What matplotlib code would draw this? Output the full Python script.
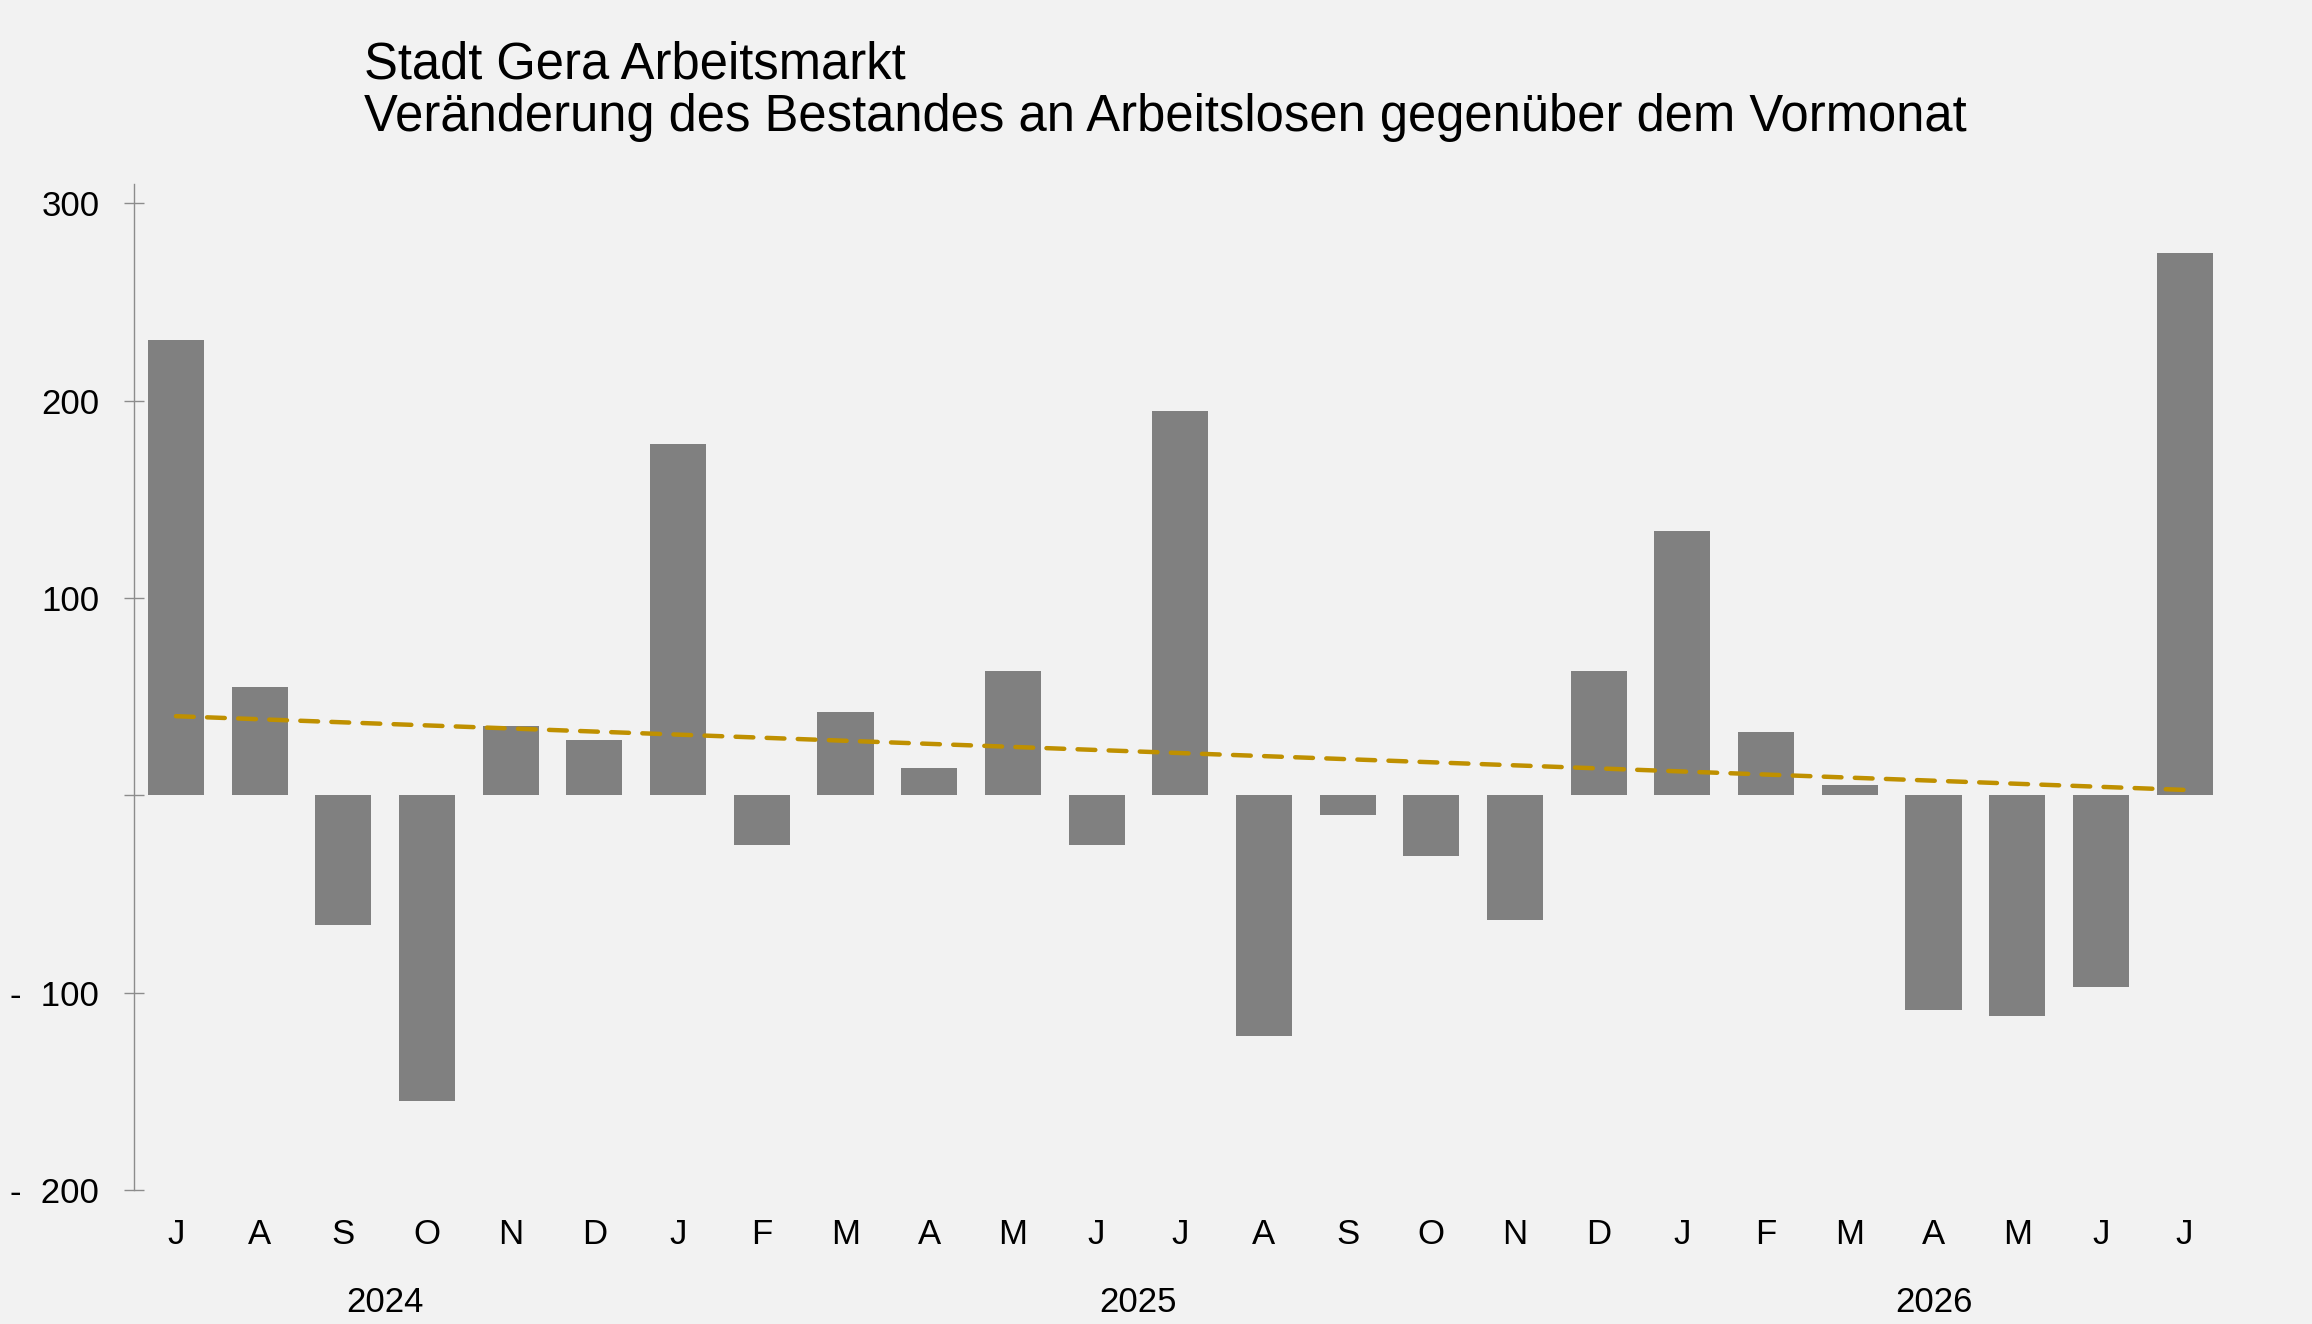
import numpy as np
import matplotlib
matplotlib.use("Agg")
import matplotlib.pyplot as plt

plt.rcParams['font.family'] = ['Liberation Sans', 'DejaVu Sans']

months = ["J", "A", "S", "O", "N", "D",
          "J", "F", "M", "A", "M", "J", "J", "A", "S", "O", "N", "D",
          "J", "F", "M", "A", "M", "J", "J"]
values = [231, 55, -66, -155, 35, 28,
          178, -25, 42, 14, 63, -25, 195, -122, -10, -31, -63, 63,
          134, 32, 5, -109, -112, -97, 275]
years = ["2024", "2025", "2026"]
year_spans = [(0, 5), (6, 17), (18, 24)]
ytick_vals = [-200, -100, 0, 100, 200, 300]
ytick_labels = ["-  200", "-  100", "", "100", "200", "300"]

bg = "#f2f2f2"
fig = plt.figure(figsize=(23.12, 13.24), dpi=100, facecolor=bg)
ax = fig.add_axes([0.058, 0.1013, 0.905, 0.76])
ax.set_facecolor(bg)

x = np.arange(len(values))
ax.bar(x, values, width=0.67, color="#808080", zorder=2)

coef = np.polyfit(x, values, 1)
trend = np.polyval(coef, x)
ax.plot(x, trend, color="#bf9000", lw=3.2, linestyle=(0, (4, 3)),
        dash_capstyle="round", zorder=3)

ax.set_xlim(-0.5, len(values) - 0.5)
ax.set_ylim(-200, 310)
ax.set_yticks(ytick_vals)
ax.set_yticklabels(ytick_labels)
ax.tick_params(axis="y", direction="inout", length=14, width=1, color="#8c8c8c",
               labelsize=25, pad=18)
ax.set_xticks(x)
ax.set_xticklabels(months)
ax.tick_params(axis="x", length=0, labelsize=25, pad=20)

for s in ["top", "right", "bottom"]:
    ax.spines[s].set_visible(False)
ax.spines["left"].set_color("#8c8c8c")
ax.spines["left"].set_linewidth(1)
ax.spines["left"].set_bounds(-200, 310)

for yr, (a, b) in zip(years, year_spans):
    ax.text((a + b) / 2, -0.112, yr, transform=ax.get_xaxis_transform(),
            ha="center", va="center", fontsize=25)

fig.text(0.1575, 0.951, "Stadt Gera Arbeitsmarkt", fontsize=36.5, ha="left", va="center")
fig.text(0.1575, 0.911, "Veränderung des Bestandes an Arbeitslosen gegenüber dem Vormonat",
         fontsize=36.5, ha="left", va="center")

fig.savefig("out.png", dpi=100, facecolor=bg)
